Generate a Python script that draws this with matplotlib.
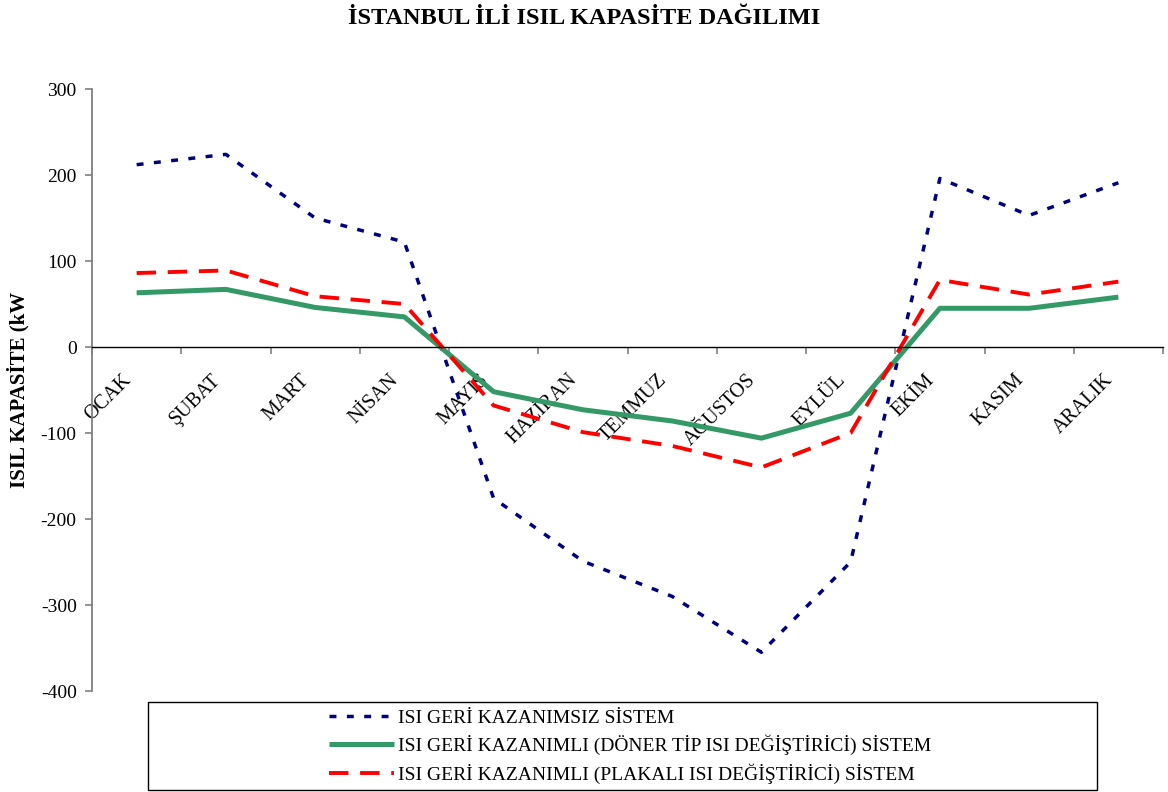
import matplotlib
matplotlib.use("Agg")
import matplotlib.pyplot as plt
import matplotlib.transforms as mtransforms
from matplotlib.patches import Rectangle
import numpy as np

plt.rcParams["font.family"] = ["Liberation Serif", "DejaVu Serif"]
plt.rcParams["axes.unicode_minus"] = False

# data ##############################################################
months = ["OCAK", "ŞUBAT", "MART", "NİSAN", "MAYIS", "HAZİRAN",
          "TEMMUZ", "AĞUSTOS", "EYLÜL", "EKİM", "KASIM", "ARALIK"]
no_recovery = [212, 224, 150, 122, -176, -249, -290, -355, -250, 196, 153, 191]
rotary = [63, 67, 46, 35, -52, -73, -86, -106, -77, 45, 45, 58]
plate = [86, 89, 59, 50, -68, -99, -115, -140, -100, 78, 61, 76]

lbl_no = "ISI GERİ KAZANIMSIZ SİSTEM"
lbl_rot = "ISI GERİ KAZANIMLI (DÖNER TİP ISI DEĞİŞTİRİCİ) SİSTEM"
lbl_pl = "ISI GERİ KAZANIMLI (PLAKALI ISI DEĞİŞTİRİCİ) SİSTEM"

# plot ##############################################################
fig = plt.figure(figsize=(11.68, 7.92), dpi=100)
ax = fig.add_axes([92/1168, 1-691/792, 1071/1168, 602/792])

# spines first (set_position resets the tick settings)
ax.spines["top"].set_visible(False)
ax.spines["right"].set_visible(False)
ax.spines["left"].set_color("#808080")
ax.spines["left"].set_linewidth(1.3)
ax.spines["bottom"].set_position(("data", 0))
ax.spines["bottom"].set_color("black")
ax.spines["bottom"].set_linewidth(1.0)

x = np.arange(len(months))
ax.plot(x, no_recovery, color="#000080", lw=2.5, dashes=(2.0, 3.0), label=lbl_no)
ax.plot(x, rotary, color="#339966", lw=3.6, label=lbl_rot, solid_capstyle="butt")
ax.plot(x, plate, color="#FF0000", lw=2.8, dashes=(5.0, 3.0), label=lbl_pl)

ax.set_xlim(-0.5, 11.5)
ax.set_ylim(-400, 300)
ax.set_yticks(range(-400, 301, 100))
ax.tick_params(axis="y", labelsize=14, length=5, width=1.2, color="#808080", pad=6)

ax.set_xticks(x)
ax.set_xticks(np.arange(-0.5, 12, 1), minor=True)
ax.tick_params(axis="x", which="major", length=0, pad=9)
ax.tick_params(axis="x", which="minor", length=5, width=1.2, color="#808080")
ax.set_xticklabels(months)
shift = mtransforms.ScaledTranslation(-15/100, -11/100, fig.dpi_scale_trans)
for t in ax.get_xticklabels():
    t.set_rotation(45)
    t.set_rotation_mode("anchor")
    t.set_ha("right")
    t.set_va("top")
    t.set_fontsize(14.5)
    t.set_transform(t.get_transform() + shift)

fig.text(0.5, 1-18/792, "İSTANBUL İLİ ISIL KAPASİTE DAĞILIMI",
         ha="center", va="center", fontsize=17.5, fontweight="bold")
fig.text(18/1168, 1-390/792, "ISIL KAPASİTE (kW", rotation=90,
         ha="center", va="center", fontsize=15, fontweight="bold")

# legend box
fig.patches.append(Rectangle((148/1168, 1-790/792), 949/1168, 88/792,
                             transform=fig.transFigure, fill=False,
                             edgecolor="black", lw=1.0))
fig.legend(loc="center", bbox_to_anchor=(630/1168, 1-746.5/792),
           frameon=False, fontsize=14, handlelength=3.35, handletextpad=0.2,
           labelspacing=0.42)

fig.savefig("out.png", dpi=100)
